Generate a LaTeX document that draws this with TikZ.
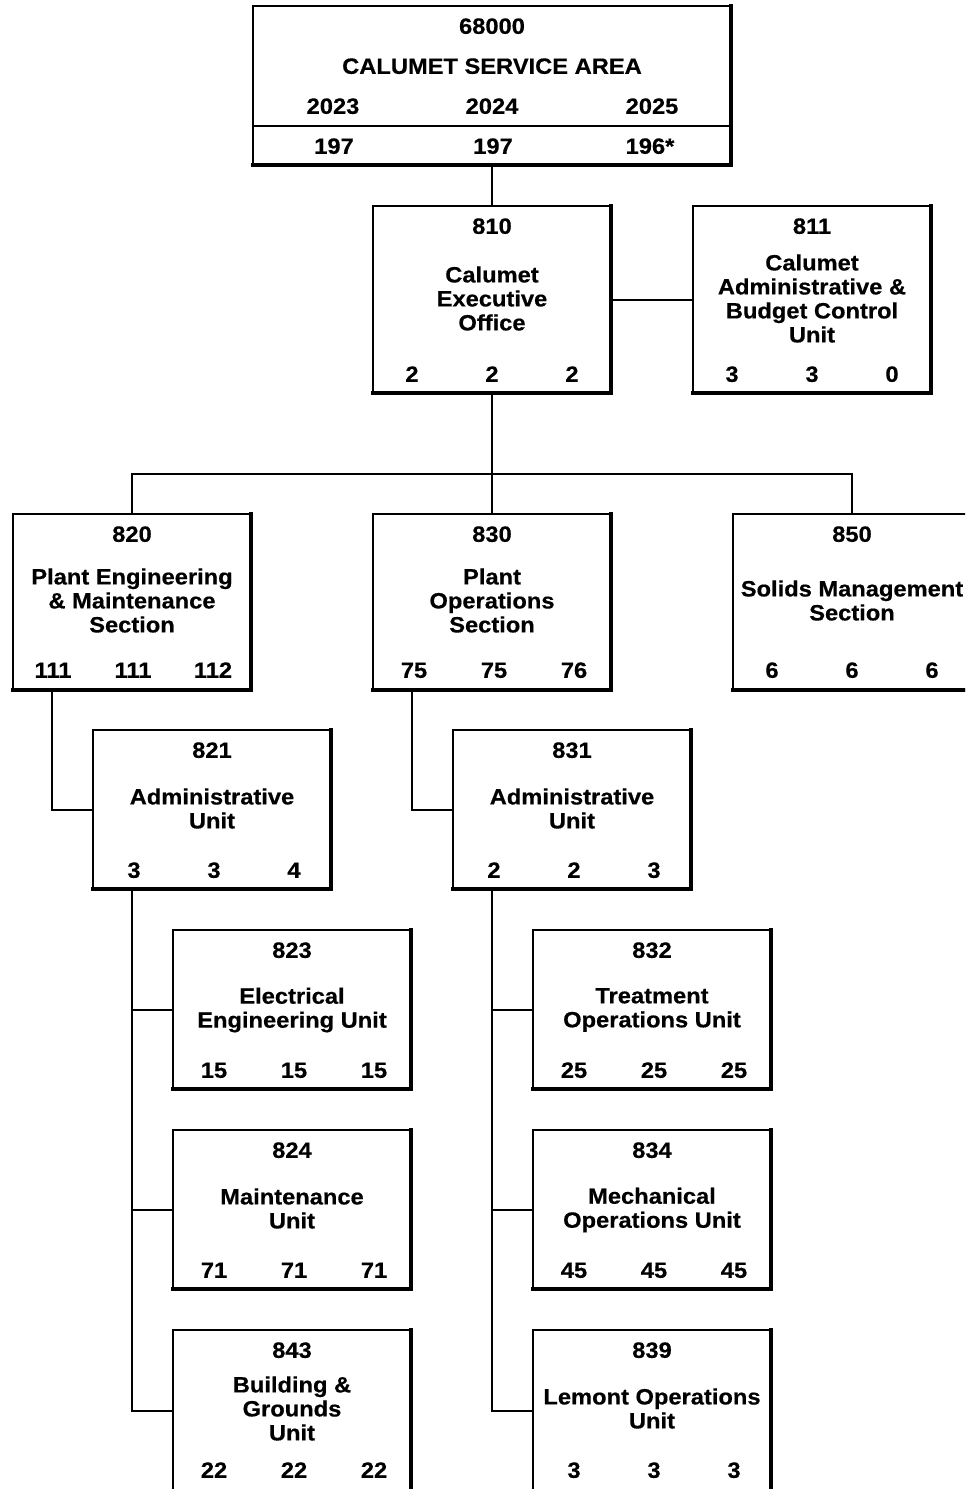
\documentclass[tikz,border=0pt]{standalone}
\usepackage{fontspec}
\setmainfont[FakeStretch=1.07,FakeBold=0.5]{Liberation Sans}
\usetikzlibrary{calc}
\newcommand\tstrut{\rule[-2.41pt]{0pt}{16.5pt}}
\newcommand\nlx{\\\tstrut}
\newcommand\obox[5]{%
  \node[orgbox, minimum width={(#4-#2)*0.75pt}, minimum height={(#5-#3)*0.75pt}] (#1) at ({(#2+#4)/2},{(#3+#5)/2}) {};
  \draw[shadowline] (#1.north east) -- (#1.south east) -- (#1.south west);}
\newcommand\nums[6]{%
  \node[txt] (#1a) at ({#2-80},#3) {#4};
  \node[txt] (#1b) at (#2,#3) {#5};
  \node[txt] (#1c) at ({#2+80},#3) {#6};}
\tikzset{
  orgbox/.style={draw, line width=1.5pt, rectangle, inner sep=0pt, outer sep=0pt},
  shadowline/.style={line width=3pt, line cap=rect},
  conn/.style={line width=1.5pt},
  txt/.style={anchor=center, align=center, inner sep=0pt,
    font=\fontsize{16.6}{18}\selectfont\bfseries, execute at begin node=\tstrut},
}
\begin{document}
\begin{tikzpicture}[x=0.75pt,y=-0.75pt]
\useasboundingbox (0,0) rectangle (965,1489);
\clip (0,0) rectangle (965,1489);
% boxes
\obox{top}{253}{6}{731}{165}
\obox{e810}{373}{206}{611}{393}
\obox{e811}{693}{206}{931}{393}
\obox{e820}{13}{514}{251}{690}
\obox{e830}{373}{514}{611}{690}
\obox{e850}{733}{514}{971}{690}
\obox{e821}{93}{730}{331}{889}
\obox{e831}{453}{730}{691}{889}
\obox{e823}{173}{930}{411}{1089}
\obox{e824}{173}{1130}{411}{1289}
\obox{e843}{173}{1330}{411}{1492}
\obox{e832}{533}{930}{771}{1089}
\obox{e834}{533}{1130}{771}{1289}
\obox{e839}{533}{1330}{771}{1492}
% divider in top box
\coordinate (divy) at (0,126);
\draw[conn] (top.west |- divy) -- (top.east |- divy);
% connectors
\draw[conn] (top.south) -- (e810.north);
\draw[conn] (e810.east) -- (e811.west);
\coordinate (j1) at (492,474);
\draw[conn] (e810.south) -- (j1);
\draw[conn] (e820.north) |- (j1) -| (e850.north);
\draw[conn] (j1) -- (e830.north);
\coordinate (t820) at ($(e820.south west)+(39,0)$);
\draw[conn] (t820) |- (e821.west);
\coordinate (t830) at ($(e830.south west)+(39,0)$);
\draw[conn] (t830) |- (e831.west);
\coordinate (t821) at ($(e821.south west)+(39,0)$);
\draw[conn] (t821) |- (e843.west);
\draw[conn] (e823.west) -- (e823.west -| t821);
\draw[conn] (e824.west) -- (e824.west -| t821);
\coordinate (t831) at ($(e831.south west)+(39,0)$);
\draw[conn] (t831) |- (e839.west);
\draw[conn] (e832.west) -- (e832.west -| t831);
\draw[conn] (e834.west) -- (e834.west -| t831);
% texts: top
\node[txt] (t68) at (492,26) {68000};
\node[txt] (tcsa) at (492,66) {CALUMET SERVICE AREA};
\node[txt] (y23) at (333,106) {2023};
\node[txt] (y24) at (492,106) {2024};
\node[txt] (y25) at (652,106) {2025};
\node[txt] (v23) at (334,146) {197};
\node[txt] (v24) at (493,146) {197};
\node[txt] (v25) at (650,146) {196*};
% 810
\node[txt] (h810) at (492,226) {810};
\node[txt] (n810) at (492,300) {Calumet\nlx Executive\nlx Office};
\nums{c810}{492}{374}{2}{2}{2}
% 811
\node[txt] (h811) at (812,226) {811};
\node[txt] (n811) at (812,300) {Calumet\nlx Administrative \&\nlx Budget Control\nlx Unit};
\nums{c811}{812}{374}{3}{3}{0}
% 820
\node[txt] (h820) at (132,534) {820};
\node[txt] (n820) at (132,602) {Plant Engineering\nlx \& Maintenance\nlx Section};
\nums{c820}{133}{670}{111}{111}{112}
% 830
\node[txt] (h830) at (492,534) {830};
\node[txt] (n830) at (492,602) {Plant\nlx Operations\nlx Section};
\nums{c830}{494}{670}{75}{75}{76}
% 850
\node[txt] (h850) at (852,534) {850};
\node[txt] (n850) at (852,602) {Solids Management\nlx Section};
\nums{c850}{852}{670}{6}{6}{6}
% 821
\node[txt] (h821) at (212,750) {821};
\node[txt] (n821) at (212,810) {Administrative\nlx Unit};
\nums{c821}{214}{870}{3}{3}{4}
% 831
\node[txt] (h831) at (572,750) {831};
\node[txt] (n831) at (572,810) {Administrative\nlx Unit};
\nums{c831}{574}{870}{2}{2}{3}
% 823
\node[txt] (h823) at (292,950) {823};
\node[txt] (n823) at (292,1010) {Electrical\nlx Engineering Unit};
\nums{c823}{294}{1070}{15}{15}{15}
% 824
\node[txt] (h824) at (292,1150) {824};
\node[txt] (n824) at (292,1210) {Maintenance\nlx Unit};
\nums{c824}{294}{1270}{71}{71}{71}
% 843
\node[txt] (h843) at (292,1350) {843};
\node[txt] (n843) at (292,1410) {Building \&\nlx Grounds\nlx Unit};
\nums{c843}{294}{1470}{22}{22}{22}
% 832
\node[txt] (h832) at (652,950) {832};
\node[txt] (n832) at (652,1010) {Treatment\nlx Operations Unit};
\nums{c832}{654}{1070}{25}{25}{25}
% 834
\node[txt] (h834) at (652,1150) {834};
\node[txt] (n834) at (652,1210) {Mechanical\nlx Operations Unit};
\nums{c834}{654}{1270}{45}{45}{45}
% 839
\node[txt] (h839) at (652,1350) {839};
\node[txt] (n839) at (652,1410) {Lemont Operations\nlx Unit};
\nums{c839}{654}{1470}{3}{3}{3}
\end{tikzpicture}
\end{document}
